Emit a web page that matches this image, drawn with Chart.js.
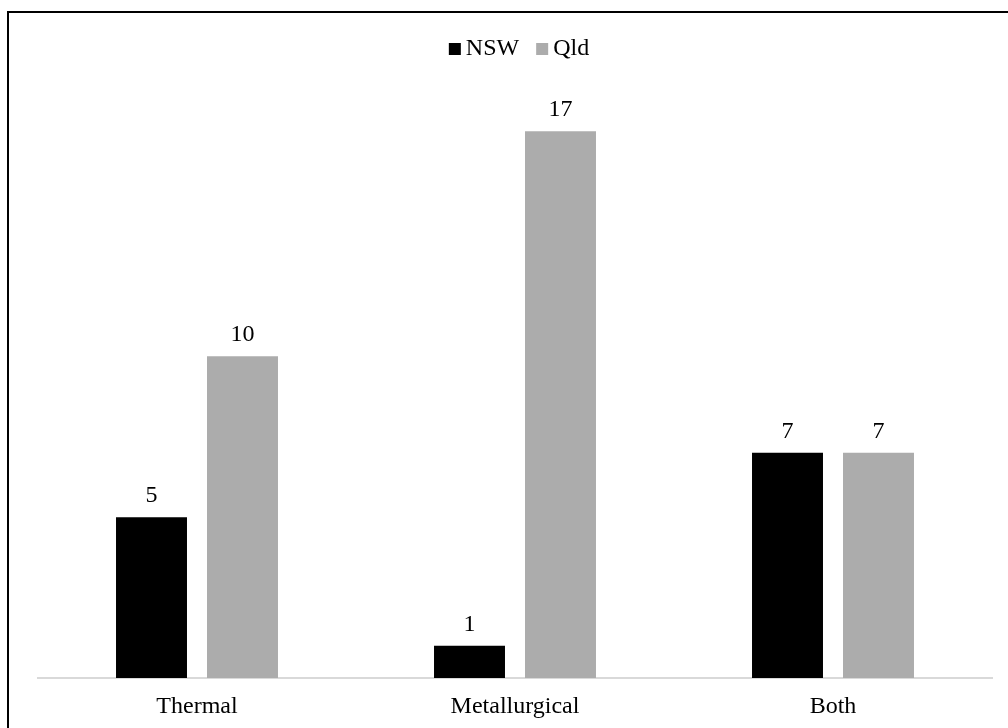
<!DOCTYPE html>
<html>
<head>
<meta charset="utf-8">
<script src="https://cdn.jsdelivr.net/npm/chart.js@4/dist/chart.umd.min.js"></script>
<style>
  html, body { margin: 0; padding: 0; background: #fff; overflow: hidden; }
  #frame { position: absolute; left: 7px; top: 11px; width: 1100px; height: 800px;
           border-left: 2px solid #000; border-top: 2px solid #000; }
  #wrap { position: absolute; left: 0; top: 0; width: 1008px; height: 728px; }
</style>
</head>
<body>
<div id="frame"></div>
<div id="wrap"><canvas id="chart" width="1008" height="728"></canvas></div>
<script>
// Coal mine counts by coal type and state
const categories = ['Thermal', 'Metallurgical', 'Both'];
const nswValues = [5, 1, 7];
const qldValues = [10, 17, 7];
const seriesNames = ['NSW', 'Qld'];
const seriesColors = ['#000000', '#ACACAC'];

const FONT = '"Liberation Serif", "Times New Roman", serif';
const FONT_SIZE = 24;

// Value labels above each bar
const valueLabels = {
  id: 'valueLabels',
  afterDatasetsDraw(chart) {
    const ctx = chart.ctx;
    ctx.save();
    ctx.font = FONT_SIZE + 'px ' + FONT;
    ctx.fillStyle = '#000';
    ctx.textAlign = 'center';
    ctx.textBaseline = 'alphabetic';
    chart.data.datasets.forEach((ds, i) => {
      chart.getDatasetMeta(i).data.forEach((bar, j) => {
        ctx.fillText(String(ds.data[j]), bar.x, bar.y - 15);
      });
    });
    ctx.restore();
  }
};

// Legend row at the top of the chart
const topLegend = {
  id: 'topLegend',
  afterDraw(chart) {
    const ctx = chart.ctx;
    ctx.save();
    ctx.font = FONT_SIZE + 'px ' + FONT;
    const box = 12, boxGap = 5, itemGap = 17;
    const items = chart.data.datasets.map(ds => ({
      text: ds.label, color: ds.backgroundColor, w: ctx.measureText(ds.label).width
    }));
    let total = items.reduce((s, it) => s + box + boxGap + it.w, 0) + itemGap * (items.length - 1);
    let x = 519 - total / 2;
    const cy = 48;
    ctx.textBaseline = 'middle';
    ctx.textAlign = 'left';
    items.forEach(it => {
      ctx.fillStyle = it.color;
      ctx.fillRect(x, cy - box / 2 + 1, box, box);
      ctx.fillStyle = '#000';
      ctx.fillText(it.text, x + box + boxGap, cy + 1);
      x += box + boxGap + it.w + itemGap;
    });
    ctx.restore();
  }
};

new Chart(document.getElementById('chart'), {
  type: 'bar',
  data: {
    labels: categories,
    datasets: [
      { label: seriesNames[0], data: nswValues, backgroundColor: seriesColors[0] },
      { label: seriesNames[1], data: qldValues, backgroundColor: seriesColors[1] }
    ]
  },
  options: {
    responsive: false,
    animation: false,
    devicePixelRatio: 1,
    layout: { padding: { left: 38, right: 16, top: 99, bottom: 0 } },
    datasets: { bar: { categoryPercentage: 0.5723, barPercentage: 0.78 } },
    plugins: { legend: { display: false }, tooltip: { enabled: false } },
    scales: {
      x: {
        grid: { display: false, drawTicks: false },
        border: { display: true, color: '#D9D9D9', width: 2 },
        ticks: { color: '#000', padding: 14, font: { family: FONT, size: FONT_SIZE } },
        afterFit(scale) { scale.height = 50; }
      },
      y: {
        display: false,
        min: 0,
        max: 18
      }
    }
  },
  plugins: [valueLabels, topLegend]
});
</script>
</body>
</html>
